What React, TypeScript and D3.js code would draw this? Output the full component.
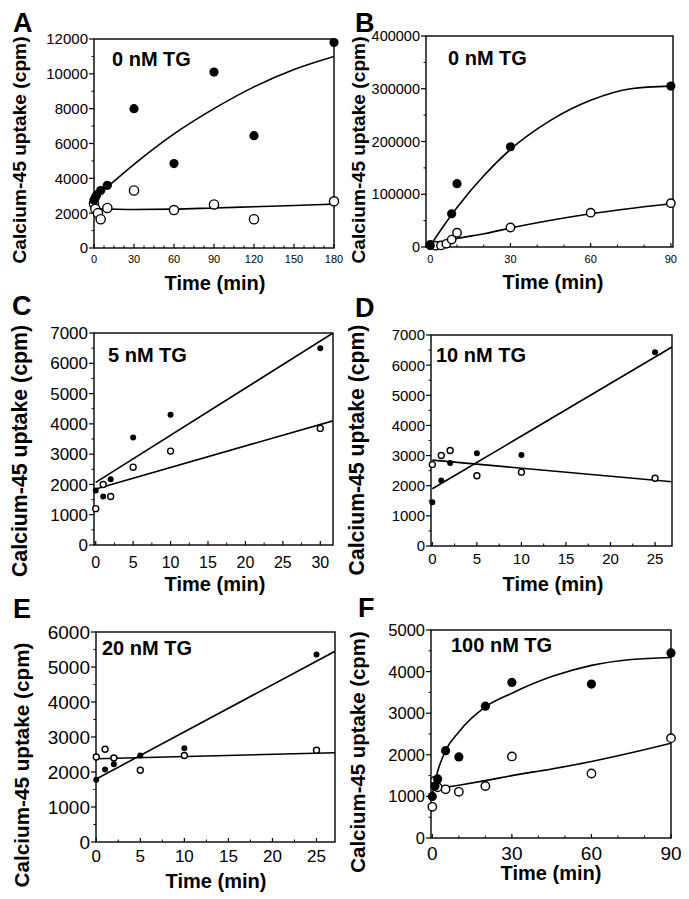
import React from 'react';
import * as d3 from 'd3';

type Pt = [number, number];

// A: 0 nM TG, long time course
const aFilled: Pt[] = [[0, 2750], [1, 2900], [2, 3050], [5, 3300], [10, 3600], [30, 8000], [60, 4850], [90, 10100], [120, 6450], [180, 11800]];
const aOpen: Pt[] = [[0, 2550], [1, 2250], [3, 2000], [5, 1650], [10, 2300], [30, 3300], [60, 2180], [90, 2500], [120, 1650], [180, 2680]];
const aFilledFit: Pt[] = [[0, 2850], [10, 3500], [30, 4800], [60, 6550], [90, 8000], [120, 9250], [150, 10250], [180, 11000]];
const aOpenFit: Pt[] = [[0, 2250], [30, 2210], [60, 2230], [90, 2300], [120, 2370], [150, 2440], [180, 2520]];
const aXTicks = [0, 30, 60, 90, 120, 150, 180];
const aYTicks = [0, 2000, 4000, 6000, 8000, 10000, 12000];

// B: 0 nM TG
const bFilled: Pt[] = [[0, 3000], [8, 63000], [10, 120000], [30, 190000], [90, 305000]];
const bOpen: Pt[] = [[0, 4000], [2, 2500], [4, 3000], [6, 6000], [8, 14000], [10, 27000], [30, 37000], [60, 65000], [90, 83000]];
const bFilledFit: Pt[] = [[0, 3000], [10, 75000], [20, 135000], [30, 185000], [45, 240000], [60, 278000], [75, 300000], [90, 305000]];
const bOpenFit: Pt[] = [[0, 3000], [10, 16000], [20, 25000], [30, 36000], [60, 63000], [90, 82000]];
const bXTicks = [0, 30, 60, 90];
const bYTicks = [0, 100000, 200000, 300000, 400000];

// C: 5 nM TG
const cFilled: Pt[] = [[0, 1800], [1, 1600], [2, 2170], [5, 3550], [10, 4300], [30, 6500]];
const cOpen: Pt[] = [[0, 1200], [1, 2000], [2, 1600], [5, 2570], [10, 3100], [30, 3850]];
const cFilledFit: Pt[] = [[0, 2070], [31.7, 7000]];
const cOpenFit: Pt[] = [[0, 1850], [31.7, 4100]];
const cXTicks = [0, 5, 10, 15, 20, 25, 30];
const cYTicks = [0, 1000, 2000, 3000, 4000, 5000, 6000, 7000];

// D: 10 nM TG
const dFilled: Pt[] = [[0, 1450], [1, 2170], [2, 2750], [5, 3080], [10, 3020], [25, 6430]];
const dOpen: Pt[] = [[0, 2700], [1, 3000], [2, 3170], [5, 2330], [10, 2450], [25, 2250]];
const dFilledFit: Pt[] = [[0, 1900], [26.9, 6600]];
const dOpenFit: Pt[] = [[0, 2850], [26.9, 2130]];
const dXTicks = [0, 5, 10, 15, 20, 25];
const dYTicks = [0, 1000, 2000, 3000, 4000, 5000, 6000, 7000];

// E: 20 nM TG
const eFilled: Pt[] = [[0, 1780], [1, 2070], [2, 2220], [5, 2470], [10, 2680], [25, 5360]];
const eOpen: Pt[] = [[0, 2430], [1, 2650], [2, 2400], [5, 2050], [10, 2470], [25, 2620]];
const eFilledFit: Pt[] = [[0, 1800], [27.1, 5450]];
const eOpenFit: Pt[] = [[0, 2380], [27.1, 2550]];
const eXTicks = [0, 5, 10, 15, 20, 25];
const eYTicks = [0, 1000, 2000, 3000, 4000, 5000, 6000];

// F: 100 nM TG
const fFilled: Pt[] = [[0, 1000], [1, 1250], [2, 1420], [5, 2100], [10, 1950], [20, 3170], [30, 3740], [60, 3700], [90, 4450]];
const fOpen: Pt[] = [[0, 750], [1, 1380], [2, 1220], [5, 1170], [10, 1110], [20, 1250], [30, 1960], [60, 1550], [90, 2400]];
const fFilledFit: Pt[] = [[0, 1050], [1, 1350], [2, 1600], [5, 2100], [10, 2550], [20, 3150], [30, 3480], [45, 3880], [60, 4150], [75, 4290], [90, 4340]];
const fOpenFit: Pt[] = [[0, 1170], [10, 1270], [20, 1380], [30, 1500], [45, 1660], [60, 1840], [75, 2050], [90, 2280]];
const fXTicks = [0, 30, 60, 90];
const fYTicks = [0, 1000, 2000, 3000, 4000, 5000];

const FONT = '"Liberation Sans", Arial, Helvetica, sans-serif';

const panels = [
  {
    letter: 'A', title: '0 nM TG', filled: aFilled, open: aOpen, filledFit: aFilledFit, openFit: aOpenFit,
    xTicks: aXTicks, yTicks: aYTicks, xMinor: 7.5, smooth: true,
    l: 94, r: 334, t: 39, b: 248, xDomain: [0, 180],
    rFill: 4.6, rOpen: 4.6, yFont: 15, xFont: 11, xLabelDy: 15,
    letterPos: [13, 32], titlePos: [112, 66], yTitle: [19, 150], yTitleSize: 19.2, xTitle: [215, 290],
  },
  {
    letter: 'B', title: '0 nM TG', filled: bFilled, open: bOpen, filledFit: bFilledFit, openFit: bOpenFit,
    xTicks: bXTicks, yTicks: bYTicks, xMinor: 10, smooth: true,
    l: 426, r: 673, t: 36, b: 247, xDomain: [-1.6, 90.8],
    rFill: 4.6, rOpen: 4.2, yFont: 14.5, xFont: 11, xLabelDy: 16,
    letterPos: [355, 32], titlePos: [448, 65], yTitle: [358, 150], yTitleSize: 19.2, xTitle: [553, 289],
  },
  {
    letter: 'C', title: '5 nM TG', filled: cFilled, open: cOpen, filledFit: cFilledFit, openFit: cOpenFit,
    xTicks: cXTicks, yTicks: cYTicks, xMinor: 2.5, smooth: false,
    l: 94, r: 333, t: 333, b: 545, xDomain: [-0.23, 31.7],
    rFill: 3, rOpen: 3, yFont: 17, xFont: 16, xLabelDy: 23,
    letterPos: [12, 315], titlePos: [108, 362], yTitle: [19, 451], yTitleSize: 21.3, xTitle: [215, 591],
  },
  {
    letter: 'D', title: '10 nM TG', filled: dFilled, open: dOpen, filledFit: dFilledFit, openFit: dOpenFit,
    xTicks: dXTicks, yTicks: dYTicks, xMinor: 2.5, smooth: false,
    l: 431, r: 672, t: 335, b: 546, xDomain: [-0.15, 26.9],
    rFill: 3, rOpen: 3, yFont: 15, xFont: 15, xLabelDy: 18,
    letterPos: [355, 317], titlePos: [436, 362], yTitle: [356, 450], yTitleSize: 21.2, xTitle: [553, 591],
  },
  {
    letter: 'E', title: '20 nM TG', filled: eFilled, open: eOpen, filledFit: eFilledFit, openFit: eOpenFit,
    xTicks: eXTicks, yTicks: eYTicks, xMinor: 2.5, smooth: false,
    l: 96, r: 335, t: 632, b: 842, xDomain: [-0.03, 27.1],
    rFill: 3, rOpen: 3, yFont: 19, xFont: 17, xLabelDy: 20,
    letterPos: [13, 618], titlePos: [102, 655], yTitle: [22, 765], yTitleSize: 20.7, xTitle: [216, 888],
  },
  {
    letter: 'F', title: '100 nM TG', filled: fFilled, open: fOpen, filledFit: fFilledFit, openFit: fOpenFit,
    xTicks: fXTicks, yTicks: fYTicks, xMinor: 10, smooth: true,
    l: 431, r: 671, t: 630, b: 838, xDomain: [-0.5, 90],
    rFill: 4.6, rOpen: 4.2, yFont: 16.5, xFont: 19, xLabelDy: 22,
    letterPos: [358, 617], titlePos: [451, 652], yTitle: [358, 752], yTitleSize: 20.4, xTitle: [551, 880],
  },
];

type PanelSpec = typeof panels[number];

function Panel({ p }: { p: PanelSpec }) {
  const x = d3.scaleLinear().domain(p.xDomain).range([p.l, p.r]);
  const yMax = p.yTicks[p.yTicks.length - 1];
  const y = d3.scaleLinear().domain([0, yMax]).range([p.b, p.t]);
  const line = d3.line<Pt>().x(d => x(d[0])).y(d => y(d[1]));
  if (p.smooth) line.curve(d3.curveMonotoneX);

  const xMax = p.xTicks[p.xTicks.length - 1];
  const xMinor = d3.range(0, p.xDomain[1], p.xMinor).filter(v => !p.xTicks.includes(v));
  const yStep = p.yTicks[1] - p.yTicks[0];
  const yMinor = p.yTicks.slice(0, -1).map(v => v + yStep / 2);
  const clipId = `clip-${p.letter}`;

  return (
    <g>
      <defs>
        <clipPath id={clipId}>
          <rect x={p.l} y={p.t} width={p.r - p.l} height={p.b - p.t} />
        </clipPath>
      </defs>
      <text x={p.letterPos[0]} y={p.letterPos[1]} fontSize={27} fontWeight="bold" fontFamily={FONT}>{p.letter}</text>

      {/* frame */}
      <rect x={p.l} y={p.t} width={p.r - p.l} height={p.b - p.t} fill="none" stroke="#000" strokeWidth={1.4} />

      {/* y ticks */}
      {p.yTicks.map(v => (
        <g key={`y${v}`}>
          <line x1={p.l - 5} x2={p.l} y1={y(v)} y2={y(v)} stroke="#000" strokeWidth={1.2} />
          <text x={p.l - 6} y={y(v)} dy="0.36em" textAnchor="end" fontSize={p.yFont} fontFamily={FONT}>{v}</text>
        </g>
      ))}
      {yMinor.map(v => (
        <line key={`ym${v}`} x1={p.l - 2.5} x2={p.l} y1={y(v)} y2={y(v)} stroke="#000" strokeWidth={1} />
      ))}

      {/* x ticks */}
      {p.xTicks.map(v => (
        <g key={`x${v}`}>
          <line x1={x(v)} x2={x(v)} y1={p.b} y2={p.b - 4} stroke="#000" strokeWidth={1.2} />
          <text x={x(v)} y={p.b + p.xLabelDy} textAnchor="middle" fontSize={p.xFont} fontFamily={FONT}>{v}</text>
        </g>
      ))}
      {xMinor.filter(v => v < xMax).map(v => (
        <line key={`xm${v}`} x1={x(v)} x2={x(v)} y1={p.b} y2={p.b - 2.5} stroke="#000" strokeWidth={1} />
      ))}

      {/* fits */}
      <g clipPath={`url(#${clipId})`}>
        <path d={line(p.filledFit) ?? ''} fill="none" stroke="#000" strokeWidth={1.6} />
        <path d={line(p.openFit) ?? ''} fill="none" stroke="#000" strokeWidth={1.6} />
      </g>

      {/* points */}
      {p.open.map((d, i) => (
        <circle key={`o${i}`} cx={x(d[0])} cy={y(d[1])} r={p.rOpen} fill="#fff" stroke="#000" strokeWidth={1.4} />
      ))}
      {p.filled.map((d, i) => (
        <circle key={`f${i}`} cx={x(d[0])} cy={y(d[1])} r={p.rFill} fill="#000" />
      ))}

      <text x={p.titlePos[0]} y={p.titlePos[1]} fontSize={20} fontWeight="bold" fontFamily={FONT}>{p.title}</text>

      <text transform={`translate(${p.yTitle[0]},${p.yTitle[1]}) rotate(-90)`} dy="0.36em" textAnchor="middle"
        fontSize={p.yTitleSize} fontWeight="bold" fontFamily={FONT}>Calcium-45 uptake (cpm)</text>
      <text x={p.xTitle[0]} y={p.xTitle[1]} textAnchor="middle" fontSize={20} fontWeight="bold" fontFamily={FONT}>Time (min)</text>
    </g>
  );
}

export default function App() {
  return (
    <svg width={689} height={899} style={{ position: 'absolute', left: 0, top: 0, background: '#fff' }}>
      <rect width={689} height={899} fill="#fff" />
      {panels.map(p => <Panel key={p.letter} p={p} />)}
    </svg>
  );
}
